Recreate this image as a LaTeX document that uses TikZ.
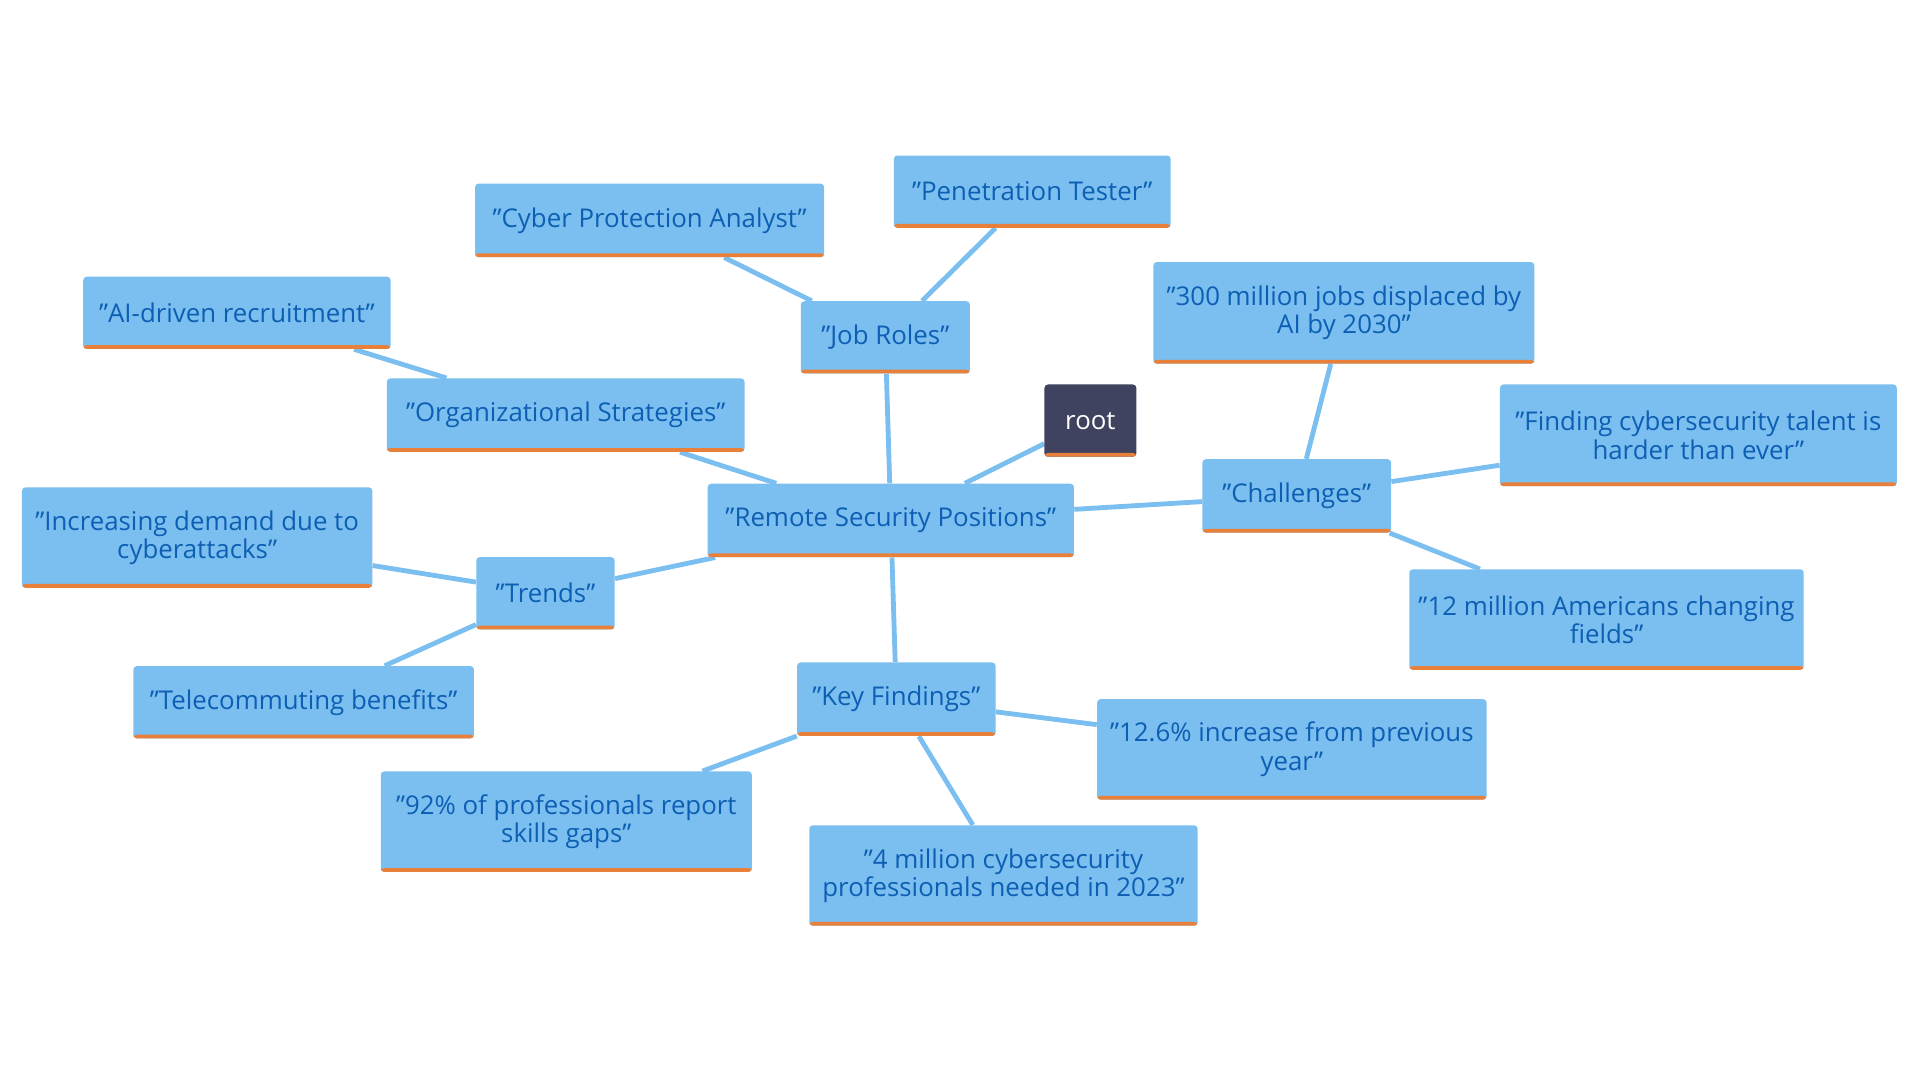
\documentclass[tikz,border=0pt]{standalone}
\usepackage{fontspec}
\setmainfont{Open Sans}
\usetikzlibrary{backgrounds}
\definecolor{boxblue}{HTML}{7BBEF0}
\definecolor{textblue}{HTML}{0D5FB3}
\definecolor{bar}{HTML}{E8803A}
\definecolor{rootgrey}{HTML}{3F4360}

\begin{document}
\begin{tikzpicture}[x=0.025cm, y=-0.025cm,
topic/.style={rectangle, rounded corners=2pt, fill=boxblue, text=textblue, align=center,
  font=\fontsize{15}{16.5}\selectfont, inner sep=2pt,
  path picture={\fill[bar] (path picture bounding box.south west) rectangle ([yshift=2.2pt]path picture bounding box.south east);}},
rootnode/.style={topic, fill=rootgrey, text=white},
link/.style={draw=boxblue, line width=2.8pt}
]
    \useasboundingbox (0,0) rectangle (1568,882);
    %Nodes
    \node[rootnode, minimum width=1.875cm, minimum height=1.475cm] (root) at (890.5,343.5) {root};
    \node[topic, minimum width=7.475cm, minimum height=1.5cm] (rsp) at (727.5,425) {"Remote Security Positions"};
    \node[topic, minimum width=3.45cm, minimum height=1.475cm] (jobs) at (723,275.5) {"Job Roles"};
    \node[topic, minimum width=7.125cm, minimum height=1.5cm] (cyber) at (530.5,180) {"Cyber Protection Analyst"};
    \node[topic, minimum width=5.65cm, minimum height=1.475cm] (pentest) at (843,156.5) {"Penetration Tester"};
    \node[topic, minimum width=7.3cm, minimum height=1.5cm] (org) at (462,339) {"Organizational Strategies"};
    \node[topic, minimum width=6.275cm, minimum height=1.475cm] (ai) at (193.5,255.5) {"AI-driven recruitment"};
    \node[topic, minimum width=2.825cm, minimum height=1.475cm] (trends) at (445.5,484.5) {"Trends"};
    \node[topic, minimum width=7.15cm, minimum height=2.05cm] (demand) at (161,439) {"Increasing demand due to\\cyberattacks"};
    \node[topic, minimum width=6.95cm, minimum height=1.475cm] (tele) at (248,573.5) {"Telecommuting benefits"};
    \node[topic, minimum width=4.05cm, minimum height=1.5cm] (findings) at (732,571) {"Key Findings"};
    \node[topic, minimum width=7.575cm, minimum height=2.05cm] (gaps) at (462.5,671) {"92\% of professionals report\\skills gaps"};
    \node[topic, minimum width=7.925cm, minimum height=2.05cm] (needed) at (819.5,715) {"4 million cybersecurity\\professionals needed in 2023"};
    \node[topic, minimum width=7.95cm, minimum height=2.05cm] (increase) at (1055,612) {"12.6\% increase from previous\\year"};
    \node[topic, minimum width=3.85cm, minimum height=1.5cm] (chall) at (1059,405) {"Challenges"};
    \node[topic, minimum width=7.775cm, minimum height=2.075cm] (displaced) at (1097.5,255.5) {"300 million jobs displaced by\\AI by 2030"};
    \node[topic, minimum width=8.1cm, minimum height=2.075cm] (talent) at (1387,355.5) {"Finding cybersecurity talent is\\harder than ever"};
    \node[topic, minimum width=8.05cm, minimum height=2.05cm] (fields) at (1312,506) {"12 million Americans changing\\fields"};

    %Lines
    \begin{scope}[on background layer]
    \draw[link] (root) -- (rsp);
    \draw[link] (rsp) -- (jobs);
    \draw[link] (jobs) -- (cyber);
    \draw[link] (jobs) -- (pentest);
    \draw[link] (rsp) -- (org);
    \draw[link] (org) -- (ai);
    \draw[link] (rsp) -- (trends);
    \draw[link] (trends) -- (demand);
    \draw[link] (trends) -- (tele);
    \draw[link] (rsp) -- (findings);
    \draw[link] (findings) -- (gaps);
    \draw[link] (findings) -- (needed);
    \draw[link] (findings) -- (increase);
    \draw[link] (rsp) -- (chall);
    \draw[link] (chall) -- (displaced);
    \draw[link] (chall) -- (talent);
    \draw[link] (chall) -- (fields);
    \end{scope}
\end{tikzpicture}
\end{document}
